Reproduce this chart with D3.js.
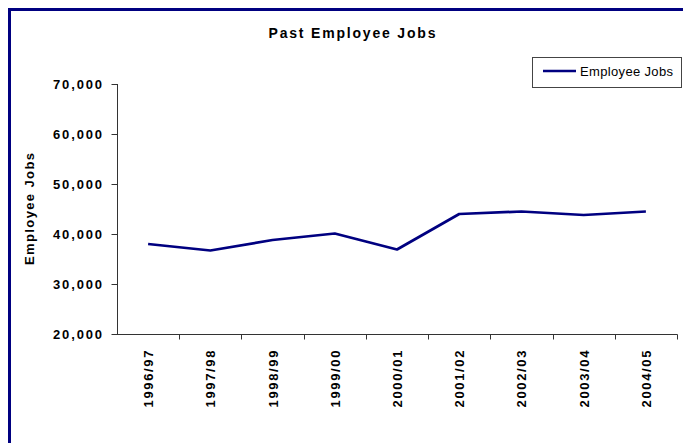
<!DOCTYPE html>
<html>
<head>
<meta charset="utf-8">
<script src="https://cdn.jsdelivr.net/npm/d3@7"></script>
<style>
  body { margin: 0; background: #fff; }
  svg { display: block; font-family: Arial, "Liberation Sans", sans-serif; }
</style>
</head>
<body>
<svg id="chart"></svg>
<script>
'use strict'

// data
var years = ["1996/97", "1997/98", "1998/99", "1999/00", "2000/01", "2001/02", "2002/03", "2003/04", "2004/05"];
var jobs = [38000, 36700, 38800, 40100, 36900, 44000, 44500, 43800, 44500];
var yTicks = [20000, 30000, 40000, 50000, 60000, 70000];
var seriesName = "Employee Jobs";

var width = 683,
    height = 443,
    navy = "#000080",
    axisColor = "#333";

var svg = d3.select("#chart")
    .attr("width", width)
    .attr("height", height);

// outer frame (runs off right/bottom like the original)
svg.append("rect")
    .attr("x", 9.5).attr("y", 9.5)
    .attr("width", 700).attr("height", 460)
    .attr("fill", "none")
    .attr("stroke", navy)
    .attr("stroke-width", 3);

var x = d3.scaleBand().domain(years).range([117, 677]);
var y = d3.scaleLinear().domain([20000, 70000]).range([334, 84]);

svg.append("text")
    .attr("x", 352).attr("y", 38)
    .attr("text-anchor", "middle")
    .attr("font-size", 14).attr("font-weight", "bold")
    .attr("textLength", 167).attr("lengthAdjust", "spacing")
    .text("Past Employee Jobs");

// y axis
var yAxis = svg.append("g")
    .attr("transform", "translate(117,0)")
    .call(d3.axisLeft(y).tickValues(yTicks).tickFormat(d3.format(",")).tickSize(6).tickPadding(9));
yAxis.select(".domain").attr("stroke", axisColor).attr("d", "M0.5,84V334.5");
yAxis.selectAll(".tick line").attr("stroke", axisColor).attr("transform", "translate(0.5,0)");
yAxis.selectAll(".tick text")
    .attr("fill", "#000")
    .attr("font-size", 13).attr("font-weight", "bold")
    .attr("font-family", "Arial, 'Liberation Sans', sans-serif")
    .attr("textLength", 49).attr("lengthAdjust", "spacing")
    .attr("dy", "0.36em");

// x axis, ticks on band edges
var edges = years.map(d => x(d)).concat([x.range()[1]]);
var xg = svg.append("g").attr("transform", "translate(0,334.5)");
xg.append("line")
    .attr("x1", 117).attr("x2", 677.5)
    .attr("stroke", axisColor);
xg.selectAll("line.tk")
    .data(edges.slice(1))
    .enter().append("line")
    .attr("class", "tk")
    .attr("x1", d => Math.round(d) + 0.5).attr("x2", d => Math.round(d) + 0.5)
    .attr("y1", 0).attr("y2", 5)
    .attr("stroke", axisColor);
xg.selectAll("text")
    .data(years)
    .enter().append("text")
    .attr("transform", d => `translate(${x(d) + x.bandwidth() / 2 + 5},16) rotate(-90)`)
    .attr("text-anchor", "end")
    .attr("font-size", 13).attr("font-weight", "bold")
    .attr("fill", "#000")
    .attr("textLength", 57).attr("lengthAdjust", "spacing")
    .text(d => d);

svg.append("text")
    .attr("transform", "translate(34,209) rotate(-90)")
    .attr("text-anchor", "middle")
    .attr("font-size", 13).attr("font-weight", "bold")
    .attr("fill", "#000")
    .attr("textLength", 112).attr("lengthAdjust", "spacing")
    .text("Employee Jobs");

// series line
var line = d3.line()
    .x((d, i) => x(years[i]) + x.bandwidth() / 2)
    .y(d => y(d));

svg.append("path")
    .datum(jobs)
    .attr("d", line)
    .attr("fill", "none")
    .attr("stroke", navy)
    .attr("stroke-width", 2.7)
    .attr("stroke-linejoin", "round");

// legend
var legend = svg.append("g");
legend.append("rect")
    .attr("x", 532.5).attr("y", 57.5)
    .attr("width", 149).attr("height", 30)
    .attr("fill", "#fff")
    .attr("stroke", "#444");
legend.append("line")
    .attr("x1", 543).attr("x2", 576)
    .attr("y1", 71).attr("y2", 71)
    .attr("stroke", navy).attr("stroke-width", 2.7);
legend.append("text")
    .attr("x", 580).attr("y", 75.5)
    .attr("font-size", 13)
    .attr("fill", "#000")
    .attr("textLength", 93).attr("lengthAdjust", "spacing")
    .text(seriesName);
</script>
</body>
</html>
